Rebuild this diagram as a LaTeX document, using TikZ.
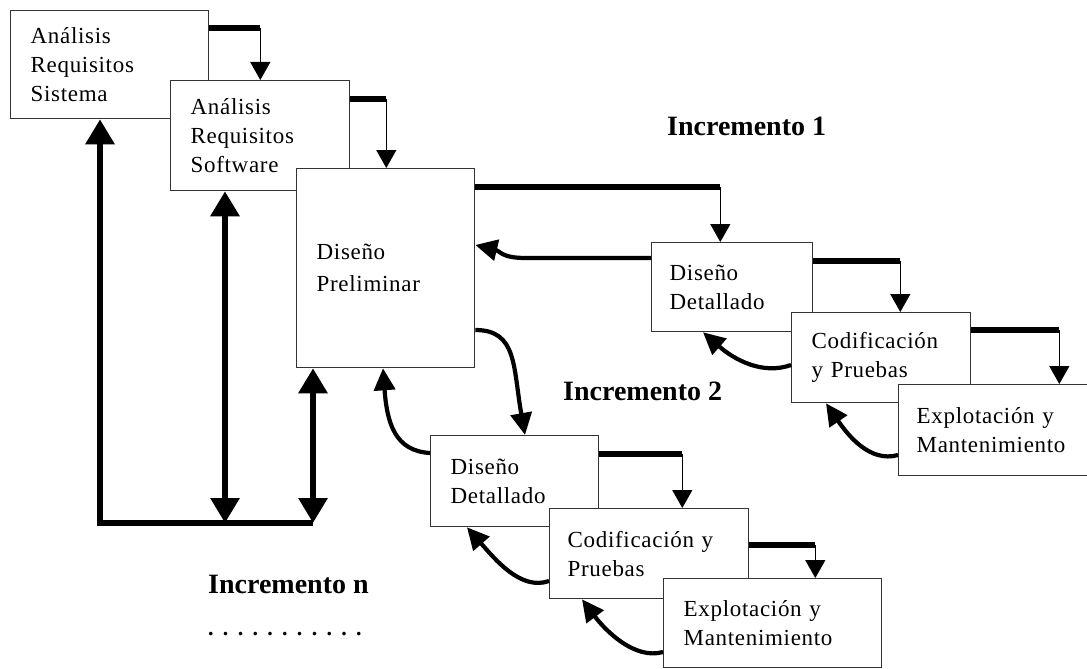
\documentclass[tikz,border=0pt]{standalone}
\usepackage{fontspec}
\setmainfont{Liberation Serif}
\newfontfamily\boxfont{Liberation Serif}[LetterSpace=3.0]
\usetikzlibrary{arrows.meta,calc}
\begin{document}
\begin{tikzpicture}[x=1pt,y=-1pt,
  box/.style={draw=black!80, line width=1.3pt, fill=white, inner xsep=20pt,
    inner ysep=0pt, align=left, anchor=north west,
    font=\boxfont\fontsize{23pt}{29pt}\selectfont},
  stage/.style={font=\fontsize{28pt}{28pt}\selectfont\bfseries, inner sep=0pt, anchor=base west},
  bar/.style={line width=5.5pt},
  drop/.style={line width=1.4pt, -{Triangle[length=18pt,width=20pt]}},
  back/.style={line width=4.2pt, -{Triangle[length=22pt,width=21pt]}},
  trunk/.style={line width=6pt, line join=miter},
  bigtip/.tip={Triangle[length=25pt,width=28pt]}]

\fill[white] (0,0) rectangle (1087,669);
\useasboundingbox (0,0) rectangle (1087,669);

% common phases
\node[box, minimum width=198pt, minimum height=108pt, text width=158pt] (A) at (10,10)
  {Análisis\\Requisitos\\Sistema};
\node[box, minimum width=179pt, minimum height=110pt, text width=139pt] (B) at (170,80)
  {Análisis\\Requisitos\\Software};
\node[box, minimum width=178pt, minimum height=199pt, text width=138pt,
  font=\boxfont\fontsize{23pt}{32pt}\selectfont] (C) at (296,168)
  {Diseño\\Preliminar};

% increment 1
\node[box, minimum width=161pt, minimum height=89pt, text width=125pt, inner xsep=18pt] (D1) at (651,242)
  {Diseño\\Detallado};
\node[box, minimum width=179pt, minimum height=90pt, text width=139pt] (E1) at (791,312)
  {Codificación\\y Pruebas};
\node[box, minimum width=200pt, minimum height=91pt, text width=164pt, inner xsep=18pt] (F1) at (898,384)
  {Explotación y\\Mantenimiento};

% increment 2
\node[box, minimum width=168pt, minimum height=91pt, text width=128pt] (D2) at (430,435)
  {Diseño\\Detallado};
\node[box, minimum width=199pt, minimum height=90pt, text width=163pt, inner xsep=18pt] (E2) at (549,508)
  {Codificación y\\Pruebas};
\node[box, minimum width=218pt, minimum height=89pt, text width=178pt] (F2) at (663,578)
  {Explotación y\\Mantenimiento};

% stage labels
\node[stage] (inc1) at (667,135) {Incremento 1};
\node[stage] (inc2) at (563,400) {Incremento 2};
\node[stage] (incn) at (208,593) {Incremento n};
\node[anchor=base west, inner sep=0pt, font=\fontsize{22pt}{22pt}\selectfont\bfseries] (dots) at (208,635)
  {.\hspace{9.3pt}.\hspace{9.3pt}.\hspace{9.3pt}.\hspace{9.3pt}.\hspace{9.3pt}.\hspace{9.3pt}.\hspace{9.3pt}.\hspace{9.3pt}.\hspace{9.3pt}.\hspace{9.3pt}.};

% forward flow: thick bar, then thin drop onto the next box
\draw[bar] ($(A.north east)+(0,18)$) -- ++(51,0) coordinate (ab);
\draw[drop] (ab) -- (ab |- B.north);
\draw[bar] ($(B.north east)+(0,19)$) -- ++(36,0) coordinate (bc);
\draw[drop] (bc) -- (bc |- C.north);
\draw[bar] ($(C.north east)+(0,19)$) -- ++(245,0) coordinate (cd);
\draw[drop] (cd) -- (cd |- D1.north);
\draw[bar] ($(D1.north east)+(0,19)$) -- ++(87,0) coordinate (de1);
\draw[drop] (de1) -- (de1 |- E1.north);
\draw[bar] ($(E1.north east)+(0,18)$) -- ++(88,0) coordinate (ef1);
\draw[drop] (ef1) -- (ef1 |- F1.north);
\draw[bar] ($(D2.north east)+(0,19)$) -- ++(83,0) coordinate (de2);
\draw[drop] (de2) -- (de2 |- E2.north);
\draw[bar] ($(E2.north east)+(0,37)$) -- ++(66,0) coordinate (ef2);
\draw[drop] (ef2) -- (ef2 |- F2.north);

% C into increment 2
\draw[back] ($(C.north east)+(0,162)$) .. controls +(42,0) and +(-12,-68) .. ($(D2.north west)+(95,0)$);

% feedback arrows
\draw[back] ($(D1.north west)+(0,16)$) -- ++(-125,0) .. controls +(-25,0) and +(25,6) .. ($(C.north east)+(0,77)$);
\draw[back] ($(E1.north west)+(0,53)$) .. controls +(-28,10) and +(32,28) .. ($(D1.south west)+(52,0)$);
\draw[back] ($(F1.north west)+(0,71)$) .. controls +(-28,8) and +(22,32) .. ($(E1.south west)+(35,0)$);
\draw[back] ($(D2.north west)+(0,18)$) .. controls +(-35,-2) and +(4,55) .. ($(C.south west)+(87,0)$);
\draw[back] ($(E2.north west)+(0,73)$) .. controls +(-28,10) and +(28,32) .. ($(D2.south west)+(37,0)$);
\draw[back] ($(F2.north west)+(0,74)$) .. controls +(-28,8) and +(24,32) .. ($(E2.south west)+(33,0)$);

% return trunk on the left
\coordinate (lb) at (100,523);
\coordinate (mb) at (225,523);
\coordinate (rb) at (313,523);
\draw[trunk, -bigtip] (rb) -- (lb) -- (lb |- A.south);
\draw[trunk, bigtip-bigtip] (mb |- B.south) -- (mb);
\draw[trunk, bigtip-bigtip] (rb |- C.south) -- (rb);
\end{tikzpicture}
\end{document}
